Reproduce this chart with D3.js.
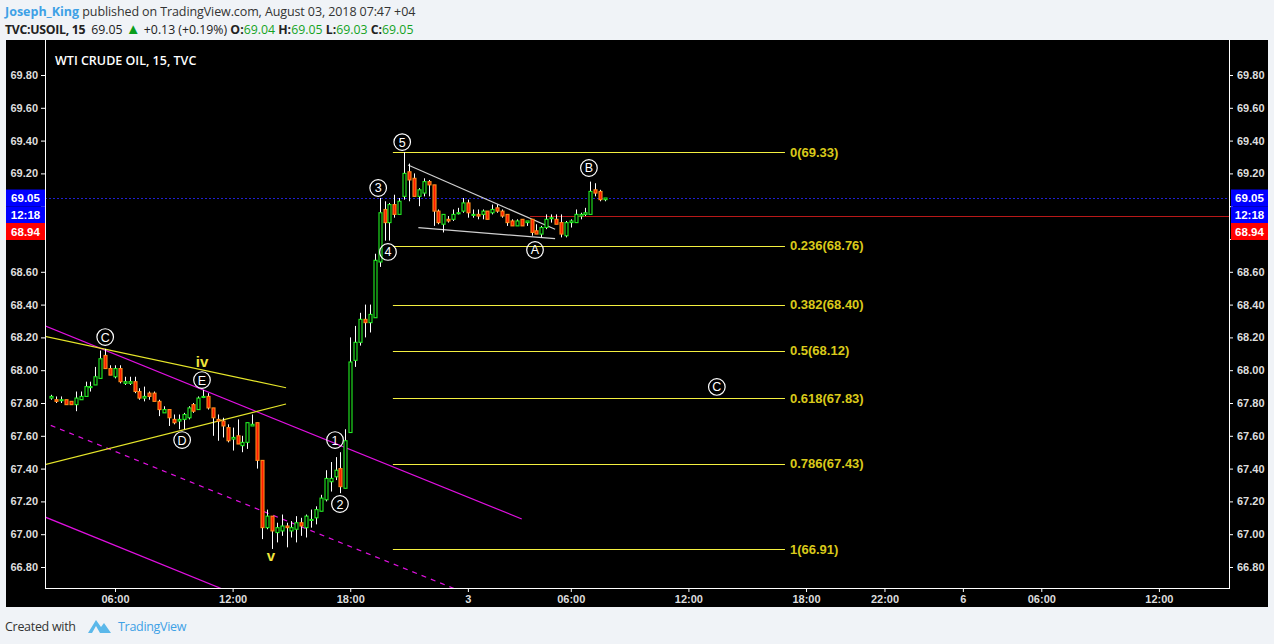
<!DOCTYPE html>
<html><head><meta charset="utf-8">
<script src="https://cdn.jsdelivr.net/npm/d3@7"></script>
<style>
body{margin:0;background:#f0f3f7;}
svg{display:block;font-family:"Liberation Sans",Arial,sans-serif;}
</style></head><body>
<svg id="c" width="1274" height="644"></svg>
<script>
// ---------------- data ----------------
const startIndex = -13; // bar index of the first candle (index 0 = 06:00 Aug 2)
const open = [
67.83,67.82,67.82,67.82,67.81,67.79,67.82,67.84,67.90,67.91,
67.95,68.09,68.01,67.96,68.01,67.92,67.92,67.93,67.87,67.83,
67.86,67.86,67.81,67.74,67.76,67.70,67.69,67.70,67.71,67.79,
67.76,67.84,67.84,67.77,67.70,67.69,67.65,67.58,67.60,67.54,
67.56,67.66,67.68,67.45,67.04,67.11,67.01,67.02,67.05,67.02,
67.03,67.07,67.04,67.09,67.10,67.14,67.21,67.32,67.35,67.40,
67.28,67.62,68.06,68.17,68.31,68.29,68.32,68.66,68.98,68.90,
69.01,68.95,69.06,69.21,69.17,69.06,69.08,69.15,69.13,68.97,
68.89,68.92,68.92,68.96,68.97,69.02,68.95,68.95,68.95,68.97,
68.96,68.99,68.97,68.95,68.91,68.88,68.92,68.90,68.92,68.85,
68.83,68.87,68.93,68.92,68.90,68.82,68.90,68.90,68.94,68.95,
68.95,69.10,69.09,69.04];
const high = [
67.85,67.84,67.84,67.82,67.81,67.87,67.87,67.93,67.93,68.02,
68.12,68.13,68.03,68.03,68.03,67.96,67.96,67.96,67.89,67.90,
67.87,67.87,67.82,67.78,67.76,67.73,67.73,67.74,67.78,67.80,
67.84,67.88,67.86,67.77,67.73,67.71,67.67,67.65,67.70,67.60,
67.68,67.73,67.68,67.45,67.15,67.11,67.07,67.12,67.07,67.08,
67.11,67.10,67.12,67.15,67.17,67.24,67.39,67.44,67.47,67.50,
67.64,68.20,68.27,68.35,68.40,68.40,68.71,69.05,69.03,69.02,
69.07,69.05,69.33,69.26,69.20,69.11,69.17,69.16,69.13,68.98,
68.95,68.94,68.98,68.99,69.05,69.04,68.98,68.98,68.98,68.97,
69.01,69.01,68.98,68.95,68.92,68.92,68.92,68.91,68.92,68.89,
68.88,68.95,68.95,68.95,68.95,68.91,68.92,68.98,68.96,68.99,
69.15,69.14,69.10,69.05];
const low = [
67.82,67.80,67.80,67.79,67.79,67.75,67.82,67.84,67.87,67.91,
67.95,68.01,67.97,67.95,67.92,67.91,67.91,67.86,67.82,67.81,
67.82,67.81,67.72,67.74,67.66,67.67,67.64,67.64,67.70,67.74,
67.76,67.83,67.76,67.60,67.57,67.59,67.56,67.51,67.55,67.50,
67.52,67.66,67.40,66.97,67.03,66.91,66.95,66.99,66.92,66.98,
66.95,66.99,66.98,67.04,67.06,67.14,67.20,67.26,67.33,67.25,
67.28,67.62,68.02,68.15,68.20,68.23,68.32,68.63,68.79,68.79,
68.93,68.95,69.04,69.03,69.06,69.00,69.06,69.06,68.88,68.89,
68.84,68.90,68.91,68.95,68.96,68.93,68.93,68.92,68.92,68.92,
68.95,68.96,68.93,68.88,68.88,68.88,68.88,68.88,68.82,68.83,
68.81,68.86,68.90,68.89,68.81,68.81,68.87,68.90,68.92,68.94,
68.95,69.06,69.03,69.03];
const close = [
67.84,67.81,67.82,67.79,67.79,67.83,67.84,67.90,67.90,67.96,
68.07,68.01,67.97,68.01,67.93,67.93,67.93,67.87,67.83,67.84,
67.84,67.81,67.76,67.76,67.71,67.68,67.70,67.73,67.77,67.75,
67.83,67.84,67.77,67.71,67.69,67.66,67.57,67.59,67.55,67.56,
67.68,67.67,67.45,67.04,67.11,67.02,67.04,67.05,67.04,67.04,
67.07,67.05,67.11,67.09,67.15,67.22,67.34,67.34,67.39,67.29,
67.57,68.05,68.17,68.31,68.29,68.34,68.67,68.96,68.90,69.01,
68.95,69.03,69.20,69.16,69.06,69.10,69.15,69.13,68.97,68.90,
68.95,68.91,68.95,68.96,69.02,68.96,68.95,68.94,68.97,68.92,
68.98,68.97,68.94,68.90,68.88,68.91,68.88,68.91,68.84,68.83,
68.87,68.92,68.93,68.89,68.83,68.90,68.91,68.95,68.95,68.96,
69.09,69.08,69.04,69.05];

const yTicks = [66.8,67.0,67.2,67.4,67.6,67.8,68.0,68.2,68.4,68.6,68.8,69.0,69.2,69.4,69.6,69.8];
const xTickIndex = [0,24,48,72,93,117,141,157,173,189,213];
const xTickLabels = ["06:00","12:00","18:00","3","06:00","12:00","18:00","22:00","6","06:00","12:00"];

const fibRatios = ["0","0.236","0.382","0.5","0.618","0.786","1"];
const fibPrices = [69.33,68.76,68.40,68.12,67.83,67.43,66.91];
const fibStartIndex = 56.7, fibEndIndex = 136.7;

// trend lines as [index, price] pairs
const magentaUpper = [[-14.3,68.270],[83.0,67.093]];
const magentaMid   = [[-14.3,67.678],[68.4,66.678]];
const magentaLower = [[-14.3,67.105],[21.4,66.672]];
const yellowUpper  = [[-14.3,68.207],[34.9,67.893]];
const yellowLower  = [[-14.3,67.424],[34.9,67.794]];
const triUpper     = [[59.8,69.251],[89.8,68.859]];
const triLower     = [[61.9,68.869],[89.8,68.802]];

// circled wave labels [text, index, price]
const circleLabels = [["C",-2.0,68.202],["E",17.75,67.940],["D",13.7,67.574],["1",44.9,67.574],
  ["2",45.9,67.184],["3",53.7,69.111],["4",55.7,68.721],["5",58.6,69.391],
  ["A",85.7,68.733],["B",96.7,69.233],["C",122.8,67.898]];
const waveLabels = [["iv",17.75,68.05],["v",31.8,66.867]];

const lastPrice = 69.05, markPrice = 68.94, markStartIndex = 84.7, countdown = "12:18";

// ---------------- drawing ----------------
const svg = d3.select("#c");
const L = 45, R = 1229, T = 40, B = 588;
const x = d3.scaleLinear().domain([-14.28, 227.3]).range([L, R]);
const y = d3.scaleLinear().domain([66.8, 69.8]).range([567, 75]);

// header
const hdr = svg.append("g").attr("font-family","'Open Sans','Liberation Sans',sans-serif").attr("font-size",12.5);
const h1 = hdr.append("text").attr("x",5).attr("y",16);
h1.append("tspan").attr("fill","#3ea1e6").attr("font-weight","700").text("Joseph_King");
h1.append("tspan").attr("fill","#333").attr("letter-spacing","-0.1").text(" published on TradingView.com, August 03, 2018 07:47 +04");
const h2 = hdr.append("text").attr("x",5).attr("y",34).attr("fill","#222").attr("font-size",12.3);
h2.append("tspan").attr("font-weight","700").attr("letter-spacing","-0.3").text("TVC:USOIL, 15");
h2.append("tspan").attr("dx",6).text("69.05 ");
h2.append("tspan").attr("fill","#0a9e1c").attr("font-size",15).text("\u25B2");
h2.append("tspan").text(" +0.13 (+0.19%) ");
[["O:","69.04"],["H:","69.05"],["L:","69.03"],["C:","69.05"]].forEach(([k,v])=>{
  h2.append("tspan").attr("font-weight","700").text(k);
  h2.append("tspan").attr("fill","#14a31f").text(v+" ");
});

// black panel
svg.append("rect").attr("x",6).attr("y",40).attr("width",1262).attr("height",567).attr("fill","#000");

svg.append("defs").append("clipPath").attr("id","plot")
  .append("rect").attr("x",L).attr("y",T).attr("width",R-L).attr("height",B-T);
const plot = svg.append("g").attr("clip-path","url(#plot)");

// title
svg.append("text").attr("x",55).attr("y",65).attr("fill","#fff").attr("font-size",12.5)
  .attr("font-weight","600").attr("font-family","'Open Sans','Liberation Sans',sans-serif")
  .text("WTI CRUDE OIL, 15, TVC");

// last price dashed line and mark line
plot.append("line").attr("x1",L).attr("x2",R).attr("y1",Math.round(y(lastPrice))+0.5).attr("y2",Math.round(y(lastPrice))+0.5)
  .attr("stroke","#2020d0").attr("stroke-dasharray","2,2").attr("stroke-width",1);
plot.append("line").attr("x1",x(markStartIndex)).attr("x2",R).attr("y1",Math.round(y(markPrice))+0.5).attr("y2",Math.round(y(markPrice))+0.5)
  .attr("stroke","#b81818").attr("stroke-width",1);

// trend lines
const line = d3.line().x(d=>x(d[0])).y(d=>y(d[1]));
function ext(p, a, b){
  const [i0,p0]=p[0],[i1,p1]=p[1]; const s=(p1-p0)/(i1-i0);
  return [[a,p0+(a-i0)*s],[b,p0+(b-i0)*s]];
}
plot.append("path").attr("d",line(magentaUpper)).attr("stroke","#e010e0").attr("stroke-width",1.2).attr("fill","none");
plot.append("path").attr("d",line(ext(magentaMid,-15,80))).attr("stroke","#e010e0").attr("stroke-width",1.2).attr("stroke-dasharray","5,5").attr("fill","none");
plot.append("path").attr("d",line(ext(magentaLower,-15,30))).attr("stroke","#e010e0").attr("stroke-width",1.2).attr("fill","none");
plot.append("path").attr("d",line(ext(yellowUpper,-15,34.9))).attr("stroke","#e6e62a").attr("stroke-width",1.2).attr("fill","none");
plot.append("path").attr("d",line(ext(yellowLower,-15,34.9))).attr("stroke","#e6e62a").attr("stroke-width",1.2).attr("fill","none");
plot.append("path").attr("d",line(triUpper)).attr("stroke","#d0d0d0").attr("stroke-width",1.2).attr("fill","none");
plot.append("path").attr("d",line(triLower)).attr("stroke","#d0d0d0").attr("stroke-width",1.2).attr("fill","none");

// fib levels
fibPrices.forEach((p,k)=>{
  plot.append("line").attr("x1",x(fibStartIndex)).attr("x2",x(fibEndIndex))
    .attr("y1",Math.round(y(p))+0.5).attr("y2",Math.round(y(p))+0.5)
    .attr("stroke","#f4f040").attr("stroke-width",1);
  plot.append("text").attr("x",x(fibEndIndex)+5).attr("y",y(p)).attr("dy","0.35em")
    .attr("fill","#d9c91a").attr("font-size",13).attr("font-weight","700")
    .text(fibRatios[k]+"("+p.toFixed(2)+")");
});

// candles
const bars = open.map((o,k)=>({i:startIndex+k,o,h:high[k],l:low[k],c:close[k]}));
const cg = plot.append("g");
cg.selectAll("line.w").data(bars).join("line")
  .attr("x1",d=>Math.round(x(d.i))+0.5).attr("x2",d=>Math.round(x(d.i))+0.5)
  .attr("y1",d=>y(d.h)).attr("y2",d=>y(d.l)).attr("stroke","#fff").attr("stroke-width",1);
cg.selectAll("rect.b").data(bars).join("rect")
  .attr("x",d=>Math.round(x(d.i))-1.5+0.5).attr("width",3)
  .attr("y",d=>y(Math.max(d.o,d.c))).attr("height",d=>Math.max(1,Math.abs(y(d.o)-y(d.c))))
  .attr("fill",d=>d.c>=d.o?"#000":"#ff1a00")
  .attr("stroke",d=>d.c>=d.o?"#22ee22":"#ff8c1a").attr("stroke-width",1.1);

// circled labels
circleLabels.forEach(([t,i,p])=>{
  plot.append("circle").attr("cx",x(i)).attr("cy",y(p)).attr("r",8.3)
    .attr("fill","none").attr("stroke","#fff").attr("stroke-width",1.2);
  plot.append("text").attr("x",x(i)).attr("y",y(p)).attr("dy","0.36em").attr("text-anchor","middle")
    .attr("fill","#fff").attr("font-size",12.5).text(t);
});
waveLabels.forEach(([t,i,p])=>{
  plot.append("text").attr("x",x(i)).attr("y",y(p)).attr("dy","0.35em").attr("text-anchor","middle")
    .attr("fill","#f0e63c").attr("font-size",15).attr("font-weight","700").text(t);
});

// axes (tick labels hidden behind the price boxes are not drawn)
const fmt = d3.format(".2f");
const yl = y(lastPrice);
const hidden = v => { const py = y(v); return py > yl-9 && py < yl+42; };
const yFmt = v => hidden(v) ? "" : fmt(v);
function styleAxis(g){
  g.select(".domain").remove();
  g.selectAll(".tick line").attr("stroke","#fff");
  g.selectAll(".tick text").attr("fill","#ddd").attr("font-size",11).attr("font-weight","700")
    .attr("font-family","'Liberation Sans',Arial,sans-serif");
}
svg.append("g").attr("transform",`translate(${L},0)`)
  .call(d3.axisLeft(y).tickValues(yTicks).tickFormat(yFmt).tickSize(4).tickPadding(3)).call(styleAxis);
svg.append("g").attr("transform",`translate(${R},0)`)
  .call(d3.axisRight(y).tickValues(yTicks).tickFormat(yFmt).tickSize(4).tickPadding(4)).call(styleAxis);
svg.append("g").attr("transform",`translate(0,${B})`)
  .call(d3.axisBottom(x).tickValues(xTickIndex).tickFormat((d,k)=>xTickLabels[k]).tickSize(4).tickPadding(3)).call(styleAxis);
svg.append("line").attr("x1",L+0.5).attr("x2",L+0.5).attr("y1",T).attr("y2",B).attr("stroke","#fff");
svg.append("line").attr("x1",R+0.5).attr("x2",R+0.5).attr("y1",T).attr("y2",B).attr("stroke","#fff");
svg.append("line").attr("x1",L).attr("x2",R+1).attr("y1",B+0.5).attr("y2",B+0.5).attr("stroke","#fff");

// price boxes
function box(x0,w,yc,fill,text){
  svg.append("rect").attr("x",x0).attr("y",yc-8.5).attr("width",w).attr("height",17).attr("fill",fill);
  svg.append("text").attr("x",x0+w/2).attr("y",yc).attr("dy","0.36em").attr("text-anchor","middle")
    .attr("fill","#fff").attr("font-size",11.5).attr("font-weight","700").text(text);
}
[[6,39],[1231,37]].forEach(([x0,w])=>{
  box(x0,w,yl,"#0000ff",fmt(lastPrice));
  box(x0,w,yl+17,"#0000ff",countdown);
  box(x0,w,yl+33.5,"#ff0000",fmt(markPrice));
});

// footer
const ft = svg.append("g").attr("font-family","'Open Sans','Liberation Sans',sans-serif").attr("font-size",12.5);
ft.append("text").attr("x",5).attr("y",631).attr("fill","#333").attr("letter-spacing","-0.3").text("Created with");
ft.append("path").attr("d","M88,633 L96,620 L101,627 L104,623 L111,633 Z M92,633 L96,626 L100,633 Z")
  .attr("fill","#5bb8ea").attr("fill-rule","evenodd");
ft.append("text").attr("x",118).attr("y",631).attr("fill","#3ea1e6").attr("letter-spacing","-0.3").text("TradingView");
</script>
</body></html>
